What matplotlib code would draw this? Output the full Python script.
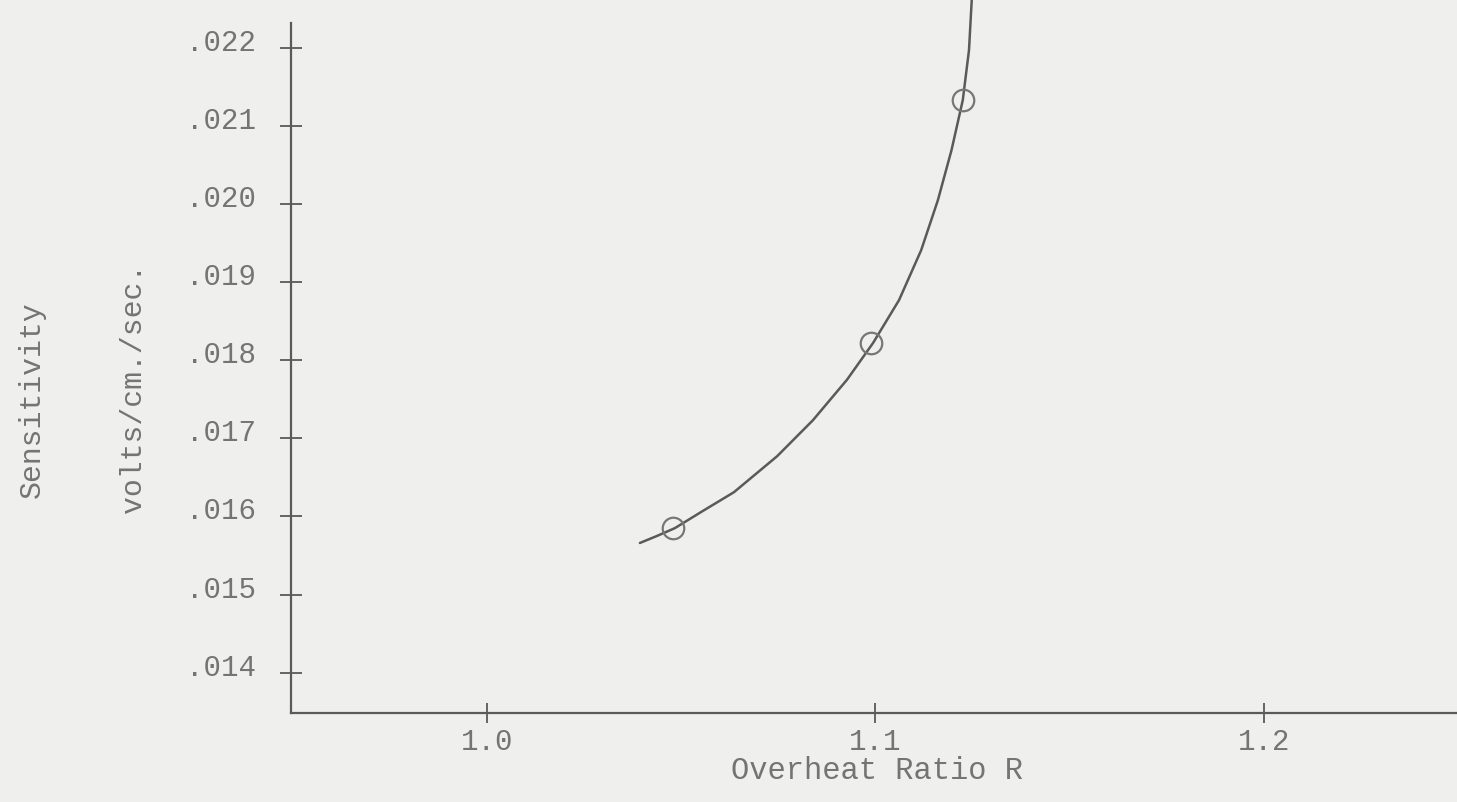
import matplotlib.pyplot as plt
from matplotlib.transforms import ScaledTranslation

# measured points (open circles)
point_r = [1.048, 1.099, 1.1225]
point_s = [0.01585, 0.01822, 0.02133]

# hand drawn curve, read along its length
curve_r = [1.0394, 1.0438, 1.0484, 1.0556, 1.0636, 1.0747, 1.0839, 1.0927, 1.0994,
           1.1061, 1.1118, 1.1161, 1.1196, 1.1225, 1.1241, 1.1248, 1.1250]
curve_s = [0.01566, 0.01575, 0.01585, 0.01607, 0.01631, 0.01677, 0.01723, 0.01775, 0.01822,
           0.01877, 0.01941, 0.02005, 0.02069, 0.02133, 0.02197, 0.02261, 0.02274]

x_ticks = [1.0, 1.1, 1.2]
x_labels = ['1.0', '1.1', '1.2']
y_ticks = [0.014, 0.015, 0.016, 0.017, 0.018, 0.019, 0.020, 0.021, 0.022]
y_labels = ['.014', '.015', '.016', '.017', '.018', '.019', '.020', '.021', '.022']

paper = '#efefed'
ink = '#5a5a5a'
type_ink = '#747474'
mono = ['Liberation Mono', 'DejaVu Sans Mono']

fig = plt.figure(figsize=(14.57, 8.02), dpi=100, facecolor=paper)
ax = fig.add_axes([291 / 1457, 1 - 713 / 802, 1 - 291 / 1457, 713 / 802])
ax.set_facecolor(paper)

ax.plot(curve_r, curve_s, color=ink, lw=1.8, solid_capstyle='round', solid_joinstyle='round')
ax.plot(point_r, point_s, 'o', ms=15.5, mfc='none', mec='#777777', mew=1.6)

ax.set_xlim(0.9496, 1.2497)
ax.set_ylim(0.013483, 0.022612)

for side in ['top', 'right']:
    ax.spines[side].set_visible(False)
for side in ['left', 'bottom']:
    ax.spines[side].set_color(ink)
    ax.spines[side].set_linewidth(1.6)
ax.spines['left'].set_bounds(0.013483, 0.02232)

ax.set_xticks(x_ticks)
ax.set_xticklabels(x_labels, family=mono, fontsize=21, color=type_ink)
ax.set_yticks(y_ticks)
ax.set_yticklabels(y_labels, family=mono, fontsize=21, color=type_ink)
ax.tick_params(axis='x', direction='inout', length=15, width=1.3, color=ink, pad=3)
ax.tick_params(axis='y', direction='inout', length=16, width=1.3, color=ink, pad=17)

# typed labels sit a little above their ticks
lift = ScaledTranslation(0, 8 / 100, fig.dpi_scale_trans)
for lab in ax.get_yticklabels():
    lab.set_transform(lab.get_transform() + lift)

ax.set_xlabel('Overheat Ratio R', family=mono, fontsize=22, color=type_ink, va='center')
ax.xaxis.set_label_coords(0.5026, -0.081)
ax.set_ylabel('volts/cm./sec.', family=mono, fontsize=21.5, color=type_ink, va='center')
ax.yaxis.set_label_coords(-0.1355, 0.456)
fig.text(32 / 1457, 1 - 400 / 802, 'Sensitivity', family=mono, fontsize=21.5,
         color=type_ink, rotation=90, ha='center', va='center')

fig.savefig('out.png', dpi=100, facecolor=paper)
